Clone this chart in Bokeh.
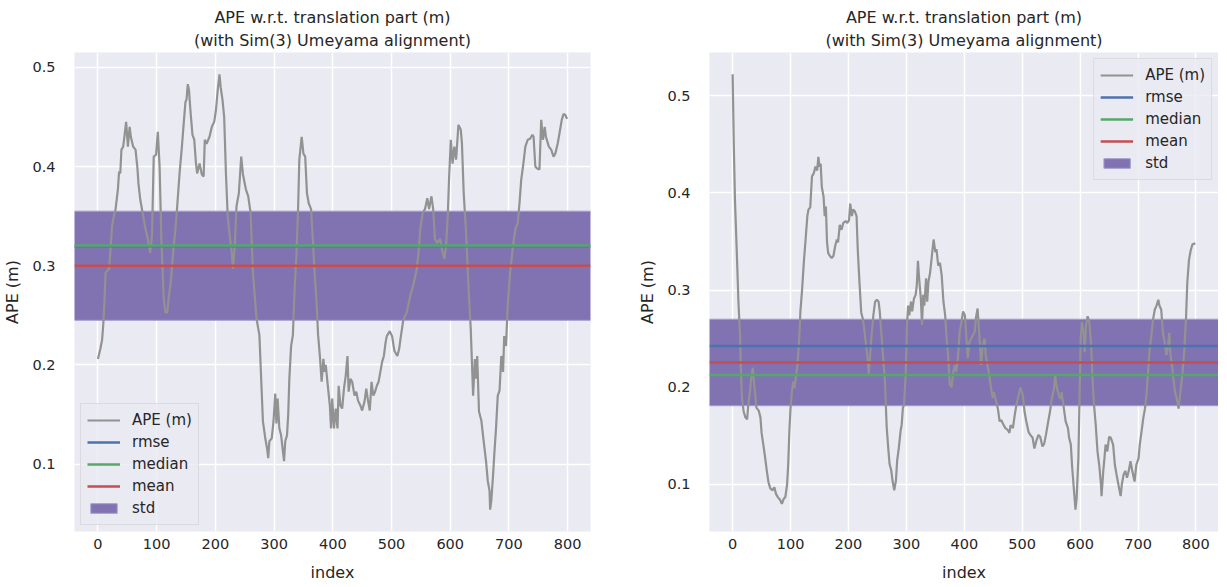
from bokeh.plotting import figure
from bokeh.layouts import row
from bokeh.models import Range1d, SingleIntervalTicker, Title, Legend, LegendItem
from bokeh.embed import file_html
from bokeh.resources import INLINE

# ---------------- data ----------------
left_idx = [0, 4, 7, 9, 11, 13, 16, 19, 21, 24, 27, 30, 34, 36, 38, 40, 43, 45, 48, 51,
            54, 56, 60, 64, 67, 69, 72, 77, 81, 85, 89, 92, 95, 99, 102, 105, 108, 112, 115, 118,
            121, 124, 129, 132, 135, 139, 143, 146, 149, 151, 153, 155, 158, 161, 164, 167, 169, 173, 177, 180,
            182, 185, 190, 194, 198, 201, 204, 207, 209, 212, 215, 218, 221, 225, 228, 230, 233, 236, 240, 244,
            247, 252, 256, 260, 264, 270, 275, 278, 281, 285, 288, 290, 292, 296, 299, 302, 304, 306, 309, 312,
            315, 317, 319, 322, 324, 326, 329, 332, 335, 338, 341, 343, 347, 350, 353, 356, 359, 363, 366, 369,
            372, 375, 378, 381, 384, 386, 388, 392, 395, 397, 399, 402, 405, 408, 410, 413, 416, 419, 422, 425,
            427, 430, 433, 437, 440, 443, 447, 450, 454, 457, 460, 463, 466, 469, 472, 475, 478, 481, 484, 487,
            490, 492, 497, 501, 505, 510, 513, 516, 520, 526, 532, 537, 543, 546, 549, 553, 557, 561, 564, 568,
            571, 574, 578, 583, 587, 590, 593, 596, 598, 601, 604, 607, 610, 614, 618, 620, 623, 627, 631, 635,
            639, 642, 644, 646, 649, 653, 657, 661, 664, 667, 668, 670, 673, 675, 678, 681, 684, 687, 690, 692,
            695, 698, 702, 707, 711, 715, 718, 721, 724, 728, 732, 736, 740, 742, 745, 748, 752, 755, 758, 761,
            763, 768, 772, 776, 779, 783, 786, 790, 793, 796, 799]
left_ape = [0.206, 0.216, 0.225, 0.240, 0.263, 0.293, 0.295, 0.297, 0.313, 0.340, 0.350, 0.357, 0.377, 0.395, 0.393, 0.417, 0.420, 0.430, 0.445, 0.420,
            0.440, 0.430, 0.420, 0.417, 0.400, 0.383, 0.367, 0.350, 0.337, 0.327, 0.313, 0.330, 0.410, 0.412, 0.435, 0.400, 0.327, 0.267, 0.253, 0.253,
            0.270, 0.283, 0.320, 0.337, 0.360, 0.393, 0.420, 0.443, 0.465, 0.468, 0.483, 0.477, 0.453, 0.432, 0.427, 0.403, 0.393, 0.403, 0.392, 0.390,
            0.427, 0.423, 0.430, 0.440, 0.445, 0.457, 0.477, 0.493, 0.480, 0.468, 0.450, 0.393, 0.350, 0.327, 0.313, 0.297, 0.320, 0.360, 0.373, 0.410,
            0.392, 0.377, 0.370, 0.353, 0.293, 0.247, 0.230, 0.186, 0.143, 0.126, 0.116, 0.106, 0.123, 0.126, 0.143, 0.171, 0.141, 0.166, 0.136, 0.129,
            0.113, 0.103, 0.123, 0.129, 0.149, 0.186, 0.219, 0.230, 0.277, 0.310, 0.360, 0.407, 0.430, 0.413, 0.410, 0.373, 0.363, 0.357, 0.327, 0.293,
            0.267, 0.230, 0.209, 0.183, 0.206, 0.193, 0.200, 0.176, 0.159, 0.136, 0.166, 0.136, 0.156, 0.136, 0.179, 0.159, 0.156, 0.176, 0.189, 0.209,
            0.173, 0.186, 0.183, 0.169, 0.173, 0.164, 0.159, 0.154, 0.163, 0.176, 0.164, 0.154, 0.183, 0.169, 0.173, 0.179, 0.183, 0.193, 0.203, 0.209,
            0.223, 0.229, 0.234, 0.229, 0.214, 0.209, 0.216, 0.229, 0.245, 0.253, 0.270, 0.280, 0.297, 0.313, 0.337, 0.353, 0.357, 0.368, 0.357, 0.370,
            0.357, 0.327, 0.323, 0.327, 0.313, 0.307, 0.320, 0.353, 0.387, 0.427, 0.403, 0.420, 0.407, 0.442, 0.437, 0.423, 0.373, 0.333, 0.280, 0.236,
            0.169, 0.206, 0.186, 0.209, 0.153, 0.144, 0.123, 0.103, 0.083, 0.073, 0.054, 0.063, 0.089, 0.109, 0.136, 0.169, 0.174, 0.209, 0.193, 0.229,
            0.219, 0.260, 0.293, 0.320, 0.337, 0.343, 0.363, 0.387, 0.400, 0.420, 0.427, 0.428, 0.432, 0.430, 0.400, 0.398, 0.397, 0.447, 0.427, 0.440,
            0.430, 0.420, 0.417, 0.410, 0.413, 0.423, 0.433, 0.447, 0.453, 0.452, 0.448]

right_idx = [0, 2, 4, 7, 10, 13, 14, 16, 19, 22, 25, 27, 30, 32, 35, 37, 39, 41, 45, 48,
             50, 53, 56, 59, 62, 65, 69, 72, 75, 78, 82, 85, 88, 91, 94, 96, 98, 100, 103, 105,
             107, 109, 112, 115, 117, 120, 123, 126, 129, 131, 134, 137, 140, 143, 146, 148, 150, 152, 154, 157,
             159, 161, 163, 165, 168, 171, 174, 177, 180, 182, 185, 188, 191, 195, 198, 201, 203, 206, 208, 211,
             214, 216, 219, 222, 225, 228, 231, 233, 235, 237, 240, 243, 246, 249, 252, 254, 257, 260, 263, 266,
             269, 271, 274, 276, 279, 282, 284, 287, 290, 292, 294, 296, 299, 301, 303, 305, 308, 310, 313, 316,
             318, 320, 322, 325, 327, 329, 331, 334, 336, 338, 341, 344, 347, 350, 352, 355, 358, 361, 364, 367,
             369, 372, 375, 378, 381, 384, 386, 389, 392, 395, 398, 401, 403, 406, 409, 412, 415, 418, 420, 423,
             426, 429, 432, 435, 437, 440, 443, 446, 449, 451, 454, 458, 461, 464, 468, 471, 475, 478, 480, 484,
             487, 490, 494, 497, 501, 504, 507, 511, 514, 518, 521, 524, 528, 531, 535, 538, 541, 545, 548, 551,
             555, 557, 559, 563, 566, 568, 572, 575, 579, 581, 584, 586, 589, 592, 594, 597, 599, 601, 603, 606,
             608, 610, 613, 616, 619, 622, 624, 627, 630, 633, 636, 637, 640, 642, 644, 647, 650, 653, 657, 660,
             663, 667, 670, 672, 675, 678, 681, 684, 687, 690, 694, 697, 701, 703, 706, 709, 712, 715, 718, 720,
             723, 726, 729, 732, 735, 737, 740, 743, 746, 749, 751, 754, 756, 758, 761, 764, 767, 770, 772, 774,
             777, 780, 783, 785, 788, 791, 794, 799]
right_ape = [0.522, 0.450, 0.393, 0.342, 0.288, 0.250, 0.223, 0.189, 0.175, 0.169, 0.167, 0.182, 0.196, 0.210, 0.220, 0.203, 0.193, 0.179, 0.176, 0.169,
             0.153, 0.141, 0.128, 0.114, 0.102, 0.096, 0.094, 0.097, 0.090, 0.087, 0.084, 0.080, 0.085, 0.087, 0.100, 0.121, 0.155, 0.179, 0.199, 0.206,
             0.199, 0.210, 0.223, 0.250, 0.278, 0.301, 0.329, 0.352, 0.376, 0.383, 0.385, 0.417, 0.420, 0.427, 0.423, 0.437, 0.427, 0.430, 0.406, 0.396,
             0.376, 0.386, 0.349, 0.338, 0.335, 0.333, 0.335, 0.345, 0.352, 0.349, 0.367, 0.362, 0.369, 0.371, 0.369, 0.372, 0.389, 0.376, 0.383, 0.381,
             0.376, 0.342, 0.308, 0.277, 0.270, 0.256, 0.240, 0.230, 0.213, 0.230, 0.254, 0.274, 0.288, 0.290, 0.288, 0.278, 0.254, 0.230, 0.206, 0.159,
             0.135, 0.121, 0.114, 0.104, 0.094, 0.104, 0.124, 0.138, 0.155, 0.162, 0.179, 0.182, 0.216, 0.264, 0.284, 0.274, 0.288, 0.278, 0.291, 0.295,
             0.305, 0.330, 0.312, 0.291, 0.264, 0.295, 0.284, 0.312, 0.288, 0.308, 0.318, 0.335, 0.352, 0.339, 0.342, 0.325, 0.328, 0.315, 0.288, 0.274,
             0.254, 0.233, 0.203, 0.200, 0.216, 0.223, 0.216, 0.230, 0.257, 0.267, 0.278, 0.274, 0.257, 0.230, 0.247, 0.250, 0.254, 0.257, 0.271, 0.281,
             0.254, 0.223, 0.244, 0.250, 0.233, 0.223, 0.213, 0.200, 0.189, 0.195, 0.188, 0.178, 0.165, 0.166, 0.161, 0.158, 0.156, 0.153, 0.161, 0.158,
             0.171, 0.182, 0.192, 0.200, 0.192, 0.175, 0.165, 0.154, 0.151, 0.148, 0.137, 0.144, 0.151, 0.149, 0.139, 0.142, 0.151, 0.165, 0.175, 0.188,
             0.199, 0.212, 0.202, 0.192, 0.188, 0.195, 0.178, 0.165, 0.158, 0.148, 0.141, 0.120, 0.097, 0.074, 0.086, 0.127, 0.188, 0.250, 0.267, 0.256,
             0.236, 0.263, 0.273, 0.267, 0.243, 0.202, 0.182, 0.161, 0.134, 0.120, 0.100, 0.088, 0.114, 0.127, 0.141, 0.134, 0.149, 0.148, 0.141, 0.120,
             0.110, 0.097, 0.088, 0.100, 0.110, 0.114, 0.107, 0.114, 0.124, 0.114, 0.103, 0.120, 0.127, 0.141, 0.154, 0.168, 0.178, 0.195, 0.222, 0.239,
             0.253, 0.270, 0.280, 0.284, 0.290, 0.284, 0.280, 0.256, 0.246, 0.233, 0.239, 0.256, 0.233, 0.226, 0.209, 0.195, 0.188, 0.178, 0.188, 0.199,
             0.216, 0.239, 0.273, 0.307, 0.331, 0.341, 0.347, 0.348]

stat_labels = ["rmse", "median", "mean", "std"]
left_stats = [0.3195, 0.3205, 0.300, 0.110]
right_stats = [0.2425, 0.2125, 0.2255, 0.089]

title_lines = ["APE w.r.t. translation part (m)", "(with Sim(3) Umeyama alignment)"]
x_label = "index"
y_label = "APE (m)"
ape_label = "APE (m)"

# ---------------- style ----------------
FONT = "DejaVu Sans"
TXT = "#262626"
BG = "#EAEAF2"
APE_COLOR = "#929292"
STAT_COLORS = {"rmse": "#4C72B0", "median": "#55A868", "mean": "#C44E52", "std": "#8172B2"}


def make_panel(idx, ape, stats, frame_w, b_left, b_right, legend_loc):
    s = dict(zip(stat_labels, stats))
    x0, x1 = min(idx), max(idx)
    y0, y1 = min(ape), max(ape)
    xr = Range1d(x0 - 0.05 * (x1 - x0), x1 + 0.05 * (x1 - x0))
    yr = Range1d(y0 - 0.05 * (y1 - y0), y1 + 0.05 * (y1 - y0))
    p = figure(frame_width=frame_w, frame_height=479, x_range=xr, y_range=yr,
               output_backend="svg", toolbar_location=None,
               min_border_left=b_left, min_border_right=b_right,
               min_border_top=52, min_border_bottom=40)
    p.background_fill_color = BG
    p.border_fill_color = "white"
    p.outline_line_color = None

    # inner line first, outer line last
    p.add_layout(Title(text=title_lines[1], align="center", text_font=FONT, text_font_size="16px",
                       text_font_style="normal", text_color=TXT, standoff=5, offset=0), "above")
    p.add_layout(Title(text=title_lines[0], align="center", text_font=FONT, text_font_size="16px",
                       text_font_style="normal", text_color=TXT, standoff=0, offset=0), "above")

    p.xaxis.ticker = SingleIntervalTicker(interval=100)
    p.yaxis.ticker = SingleIntervalTicker(interval=0.1)
    p.xgrid.ticker = SingleIntervalTicker(interval=100)
    p.ygrid.ticker = SingleIntervalTicker(interval=0.1)
    p.grid.grid_line_color = "white"
    p.grid.grid_line_width = 1.5
    for ax in (p.xaxis, p.yaxis):
        ax.axis_line_color = None
        ax.major_tick_line_color = None
        ax.minor_tick_line_color = None
        ax.major_tick_out = 0
        ax.major_tick_in = 0
        ax.major_label_text_font = FONT
        ax.major_label_text_font_size = "14.5px"
        ax.major_label_text_color = TXT
        ax.axis_label_text_font = FONT
        ax.axis_label_text_font_size = "16px"
        ax.axis_label_text_font_style = "normal"
        ax.axis_label_text_color = TXT
    p.xaxis.axis_label = x_label
    p.yaxis.axis_label = y_label
    p.xaxis.major_label_standoff = 3
    p.yaxis.major_label_standoff = 15
    p.xaxis.axis_label_standoff = 11
    p.yaxis.axis_label_standoff = 7

    mean, std = s["mean"], s["std"]
    band = p.quad(left=[xr.start], right=[xr.end], bottom=[mean - std / 2], top=[mean + std / 2],
                  fill_color=STAT_COLORS["std"], fill_alpha=1.0,
                  line_color="#A69DCD", line_width=1)
    ape_r = p.line(idx, ape, line_color=APE_COLOR, line_width=2.2)
    stat_rs = {}
    for name in ["rmse", "median", "mean"]:
        stat_rs[name] = p.line([xr.start, xr.end], [s[name], s[name]],
                               line_color=STAT_COLORS[name], line_width=2.5)

    items = [LegendItem(label=ape_label, renderers=[ape_r])]
    for name in ["rmse", "median", "mean"]:
        items.append(LegendItem(label=name, renderers=[stat_rs[name]]))
    items.append(LegendItem(label="std", renderers=[band]))
    leg = Legend(items=items, location=legend_loc)
    leg.label_text_font = FONT
    leg.label_text_font_size = "15px"
    leg.label_text_color = TXT
    leg.glyph_width = 33
    leg.glyph_height = 12
    leg.label_height = 20
    leg.spacing = 2
    leg.padding = 6
    leg.margin = 6
    leg.label_standoff = 12
    leg.border_line_color = "#CCCCCC"
    leg.border_line_width = 1
    leg.background_fill_color = BG
    leg.background_fill_alpha = 0.8
    p.add_layout(leg)
    return p


p1 = make_panel(left_idx, left_ape, left_stats, 516, 67, 23, "bottom_left")
p2 = make_panel(right_idx, right_ape, right_stats, 509, 96, 0, "top_right")

layout = row(p1, p2)
open("out.html", "w").write(file_html(layout, INLINE))
